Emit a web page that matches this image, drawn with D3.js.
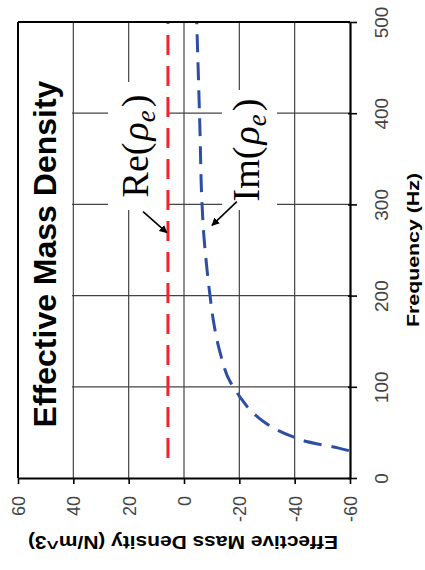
<!DOCTYPE html>
<html>
<head>
<meta charset="utf-8">
<script src="https://cdn.jsdelivr.net/npm/d3@7"></script>
<style>
    body { margin: 0; background: #fff; }
    svg { display: block; }
</style>
</head>
<body>
<div id="chart"></div>
<script>

// chart is drawn rotated: frequency runs bottom -> top, density runs left(60) -> right(-60)
var freqTicks = [0, 100, 200, 300, 400, 500];
var densTicks = [60, 40, 20, 0, -20, -40, -60];

// Re(rho_e) : nearly constant
var reFreq = [22, 100, 200, 300, 400, 500];
var reVal  = [5.8, 5.8, 5.8, 5.8, 5.8, 5.8];

// Im(rho_e)
var imFreq = [30, 33, 40, 45, 53, 62, 75, 89, 106, 138, 173, 200, 232, 265, 308, 378, 500];
var imVal  = [-59.6, -55.6, -44.3, -39.5, -33.5, -28.7, -23.8, -20.2, -16.6, -13.0, -10.6, -9.4, -8.2, -7.2, -6.4, -5.8, -4.6];

// annotation arrows, in data units [density, frequency]
var reArrow = [[14.8, 292], [6.2, 269]];
var imArrow = [[-19.1, 303], [-10.1, 277]];

var W = 425, H = 570;
var pLeft = 18, pRight = 350, pTop = 22, pBottom = 478;

var svg = d3.select("#chart").append("svg")
    .attr("width", W)
    .attr("height", H);

var x = d3.scaleLinear().domain([60, -60]).range([pLeft, pRight]);
var y = d3.scaleLinear().domain([0, 500]).range([pBottom, pTop]);

var defs = svg.append("defs");
defs.append("clipPath")
    .attr("id", "plotClip")
    .append("rect")
    .attr("x", pLeft).attr("y", pTop)
    .attr("width", pRight - pLeft).attr("height", pBottom - pTop);

var arrowMarker = defs.append("marker")
    .attr("id", "arrowHead")
    .attr("viewBox", "0 0 10 10")
    .attr("refX", 9).attr("refY", 5)
    .attr("markerWidth", 5).attr("markerHeight", 5)
    .attr("markerUnits", "strokeWidth")
    .attr("orient", "auto");
arrowMarker.append("path").attr("d", "M0,0 L10,5 L0,10 z").attr("fill", "#000");

// gridlines
var grid = svg.append("g").attr("class", "grid");
grid.selectAll("line.v")
    .data(densTicks.filter(function(d){ return d != 60 && d != -60; }))
    .enter().append("line")
    .attr("class", "v")
    .attr("x1", function(d){ return x(d); })
    .attr("x2", function(d){ return x(d); })
    .attr("y1", pTop).attr("y2", pBottom)
    .attr("stroke", "#444").attr("stroke-width", 1.2);
grid.selectAll("line.h")
    .data(freqTicks.filter(function(d){ return d != 0 && d != 500; }))
    .enter().append("line")
    .attr("class", "h")
    .attr("x1", pLeft).attr("x2", pRight)
    .attr("y1", function(d){ return y(d); })
    .attr("y2", function(d){ return y(d); })
    .attr("stroke", "#444").attr("stroke-width", 1.2);

// white text boxes that hide the grid (title, Re, Im)
var boxes = [
    { x: pLeft + 1, y: pTop + 1, w: 53, h: pBottom - pTop - 2 },
    { x: 108, y: 82, w: 60, h: 128 },
    { x: 222, y: 90, w: 55, h: 120 }
];
svg.selectAll("rect.box")
    .data(boxes)
    .enter().append("rect")
    .attr("class", "box")
    .attr("x", function(d){ return d.x; })
    .attr("y", function(d){ return d.y; })
    .attr("width", function(d){ return d.w; })
    .attr("height", function(d){ return d.h; })
    .attr("fill", "#fff");

// series
var line = d3.line()
    .x(function(d){ return x(d[1]); })
    .y(function(d){ return y(d[0]); })
    .curve(d3.curveMonotoneY);

var series = svg.append("g").attr("clip-path", "url(#plotClip)");

series.append("path")
    .datum(reFreq.map(function(f, i){ return [f, reVal[i]]; }))
    .attr("d", line)
    .attr("fill", "none")
    .attr("stroke", "#f0242a")
    .attr("stroke-width", 3)
    .attr("stroke-dasharray", "20,11");

series.append("path")
    .datum(imFreq.map(function(f, i){ return [f, imVal[i]]; }))
    .attr("d", line)
    .attr("fill", "none")
    .attr("stroke", "#2e4ea6")
    .attr("stroke-width", 3)
    .attr("stroke-dasharray", "18,10");

// arrows
[reArrow, imArrow].forEach(function(a){
    svg.append("line")
        .attr("x1", x(a[0][0])).attr("y1", y(a[0][1]))
        .attr("x2", x(a[1][0])).attr("y2", y(a[1][1]))
        .attr("stroke", "#000")
        .attr("stroke-width", 1.6)
        .attr("marker-end", "url(#arrowHead)");
});

// labels Re(rho_e), Im(rho_e)
function mathLabel(px, py, prefix) {
    var t = svg.append("text")
        .attr("transform", "translate(" + px + "," + py + ") rotate(-90)")
        .attr("text-anchor", "middle")
        .attr("font-family", "'Liberation Serif', 'Times New Roman', serif")
        .attr("font-size", 38)
        .attr("fill", "#000");
    t.append("tspan").text(prefix + "(");
    t.append("tspan").attr("font-style", "italic").attr("dx", 2).text("\u03c1");
    t.append("tspan").attr("font-style", "italic").attr("font-size", 27).attr("dy", 7).text("e");
    t.append("tspan").attr("dy", -7).attr("dx", 3).text(")");
}
mathLabel(148, 146, "Re");
mathLabel(259, 150, "Im");

// title
svg.append("text")
    .attr("transform", "translate(56,254) rotate(-90)")
    .attr("text-anchor", "middle")
    .attr("font-family", "'Liberation Sans', Arial, sans-serif")
    .attr("font-weight", "bold")
    .attr("font-size", 32)
    .attr("fill", "#000")
    .text("Effective Mass Density");

// plot border (top & left)
svg.append("line").attr("x1", pLeft).attr("x2", pRight).attr("y1", pTop).attr("y2", pTop)
    .attr("stroke", "#000").attr("stroke-width", 2);
svg.append("line").attr("x1", pLeft).attr("x2", pLeft).attr("y1", pTop).attr("y2", pBottom)
    .attr("stroke", "#000").attr("stroke-width", 2);

// density axis (bottom)
var xAxis = svg.append("g")
    .attr("transform", "translate(0," + pBottom + ")")
    .call(d3.axisBottom(x).tickValues(densTicks).tickSize(6).tickSizeOuter(0)
        .tickFormat(d3.format("d")));
xAxis.select(".domain").attr("stroke", "#000").attr("stroke-width", 2.2);
xAxis.selectAll(".tick line").attr("stroke", "#000").attr("stroke-width", 1.6);
xAxis.selectAll(".tick text")
    .attr("transform", "rotate(-90)")
    .attr("x", -18).attr("y", 6.5).attr("dy", null)
    .attr("text-anchor", "end")
    .attr("font-family", "'Liberation Sans', Arial, sans-serif")
    .attr("font-size", 18)
    .attr("fill", "#444")
    .text(function(d){ return d < 0 ? "-" + Math.abs(d) : d; });

// frequency axis (right)
var yAxis = svg.append("g")
    .attr("transform", "translate(" + pRight + ",0)")
    .call(d3.axisRight(y).tickValues(freqTicks).tickSize(7).tickSizeOuter(0));
yAxis.select(".domain").attr("stroke", "#000").attr("stroke-width", 2.2);
yAxis.selectAll(".tick line").attr("x1", -2).attr("stroke", "#000").attr("stroke-width", 1.6);
yAxis.selectAll(".tick text")
    .attr("transform", "rotate(-90)")
    .attr("x", 0).attr("y", 38).attr("dy", null)
    .attr("text-anchor", "middle")
    .attr("font-family", "'Liberation Sans', Arial, sans-serif")
    .attr("font-size", 19)
    .attr("fill", "#444");

// axis titles
svg.append("text")
    .attr("transform", "translate(419,250) rotate(-90)")
    .attr("text-anchor", "middle")
    .attr("font-family", "'Liberation Sans', Arial, sans-serif")
    .attr("font-weight", "bold")
    .attr("font-size", 17)
    .attr("textLength", 154)
    .attr("lengthAdjust", "spacingAndGlyphs")
    .attr("fill", "#000")
    .text("Frequency (Hz)");

svg.append("text")
    .attr("transform", "translate(183,536) rotate(180)")
    .attr("text-anchor", "middle")
    .attr("font-family", "'Liberation Sans', Arial, sans-serif")
    .attr("font-weight", "bold")
    .attr("font-size", 18)
    .attr("textLength", 310)
    .attr("lengthAdjust", "spacingAndGlyphs")
    .attr("fill", "#000")
    .text("Effective Mass Density (N/m^3)");

</script>
</body>
</html>
